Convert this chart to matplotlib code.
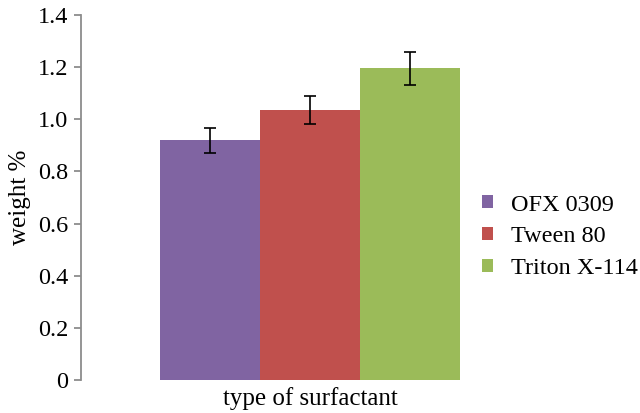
import matplotlib.pyplot as plt
import numpy as np
from matplotlib.ticker import FuncFormatter

plt.rcParams["font.family"] = ["Liberation Serif", "DejaVu Serif"]

surfactants = ["OFX 0309", "Tween 80", "Triton X-114"]
weights = [0.92, 1.035, 1.195]
errors = [0.048, 0.053, 0.062]
colors = ["#8064A2", "#C0504D", "#9BBB59"]
y_ticks = [0, 0.2, 0.4, 0.6, 0.8, 1.0, 1.2, 1.4]

fig = plt.figure(figsize=(6.4, 4.13), dpi=100)
ax = fig.add_axes([81 / 640, 1 - 380 / 413, 459 / 640, 365 / 413])

x = np.arange(len(surfactants))
handles = []
for i in range(len(surfactants)):
    b = ax.bar(x[i], weights[i], width=1.0, color=colors[i], label=surfactants[i])
    handles.append(b)
    ax.errorbar(x[i], weights[i], yerr=errors[i], fmt="none",
                ecolor="black", elinewidth=1.2, capsize=4, capthick=1.2)

ax.set_xlim(-1.29, 3.30)
ax.set_ylim(0, 1.4)
ax.set_yticks(y_ticks)
ax.yaxis.set_major_formatter(FuncFormatter(lambda v, p: "0" if v == 0 else f"{v:.1f}"))
ax.set_xticks([])

for s in ["top", "right", "bottom"]:
    ax.spines[s].set_visible(False)
ax.spines["left"].set_color("#8c8c8c")
ax.spines["left"].set_linewidth(1.3)
ax.tick_params(axis="y", colors="#8c8c8c", length=5, width=1.3, labelsize=17.5,
               labelcolor="black", pad=4)

ax.set_ylabel("weight %", fontsize=18, labelpad=5)
ax.set_xlabel("type of surfactant", fontsize=18, labelpad=5)

fig.legend(handles=handles, labels=surfactants, loc="center left",
           bbox_to_anchor=(472 / 640, 1 - 237 / 413), frameon=False,
           fontsize=17.5, handlelength=0.45, handleheight=0.45,
           handletextpad=0.75, labelspacing=0.45, borderaxespad=0)

fig.savefig("out.png", dpi=100)
